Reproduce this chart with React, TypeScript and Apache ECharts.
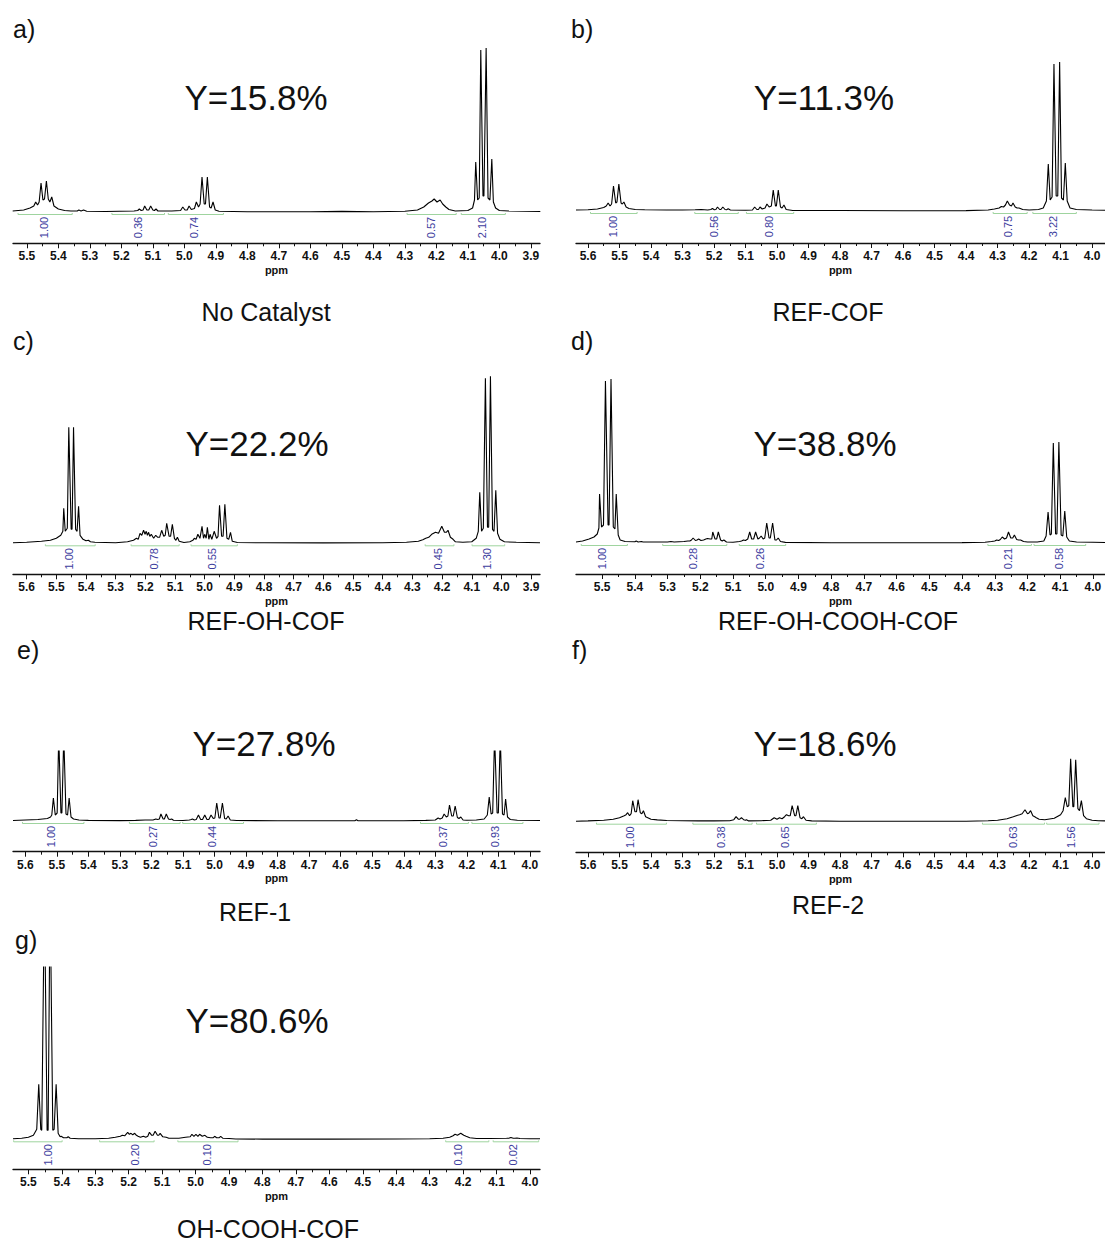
import React, { useEffect, useRef } from "react";
import * as echarts from "echarts";

type Pt = [number, number];

// ---------- spectra: [ppm, intensity above baseline] ----------
const SPEC_A: Pt[] = [
  [5.545, 1], [5.51, 2], [5.49, 4], [5.478, 6], [5.472, 10], [5.466, 7], [5.461, 10], [5.455, 29], [5.449, 12],
  [5.444, 13], [5.438, 31], [5.432, 13], [5.427, 10], [5.421, 15], [5.414, 6], [5.4, 3], [5.38, 1.5], [5.36, 1],
  [5.34, 1], [5.335, 2], [5.328, 1], [5.32, 2], [5.31, 0.8], [5.25, 0.5], [5.16, 1], [5.148, 1.5], [5.143, 3],
  [5.137, 1.5], [5.131, 2], [5.126, 6], [5.119, 2], [5.113, 2], [5.107, 6], [5.1, 2], [5.095, 1.5], [5.09, 3],
  [5.084, 1], [5.04, 1], [5.012, 1.5], [5.005, 5], [4.998, 2], [4.991, 2], [4.985, 6], [4.978, 2.5], [4.968, 3.5],
  [4.962, 10], [4.955, 5], [4.95, 8], [4.944, 35], [4.937, 8], [4.933, 8], [4.927, 35], [4.92, 5], [4.915, 4],
  [4.909, 10], [4.902, 2], [4.89, 0.8], [4.8, 0.3], [4.6, 0.3], [4.5, 0.6], [4.4, 0.3], [4.3, 0.8], [4.26, 2],
  [4.24, 5], [4.225, 9], [4.214, 11], [4.207, 13], [4.198, 10], [4.188, 12], [4.18, 8], [4.17, 5], [4.16, 2.5],
  [4.14, 1], [4.1, 1.5], [4.085, 4], [4.079, 12], [4.075, 50], [4.069, 12], [4.064, 14], [4.059, 162], [4.052, 16],
  [4.049, 16], [4.042, 164], [4.036, 14], [4.03, 12], [4.024, 53], [4.019, 10], [4.012, 4], [4.0, 1.5], [3.97, 1],
  [3.87, 0.5],
];

const SPEC_B: Pt[] = [
  [5.638, 1], [5.6, 1.2], [5.57, 2], [5.55, 3.5], [5.542, 5], [5.536, 8], [5.53, 5], [5.525, 7], [5.519, 25],
  [5.512, 8], [5.508, 9], [5.502, 27], [5.495, 8], [5.491, 7], [5.486, 9], [5.479, 4], [5.47, 2.5], [5.45, 1.5],
  [5.42, 1.2], [5.35, 1], [5.3, 1], [5.26, 1.2], [5.24, 1.5], [5.22, 1], [5.21, 1.5], [5.205, 2.5], [5.199, 1.2],
  [5.194, 1.5], [5.189, 4], [5.182, 1.5], [5.178, 1.5], [5.172, 4], [5.165, 1.5], [5.16, 1.2], [5.155, 2.2],
  [5.148, 1], [5.1, 0.8], [5.078, 1], [5.071, 4], [5.064, 1.5], [5.059, 1.5], [5.054, 4], [5.047, 2], [5.038, 3],
  [5.032, 7], [5.025, 4], [5.018, 5], [5.012, 21], [5.005, 5], [5.002, 5], [4.996, 21], [4.989, 4], [4.984, 3],
  [4.978, 6], [4.971, 1.5], [4.95, 0.5], [4.8, 0.5], [4.6, 0.3], [4.4, 0.4], [4.33, 1], [4.31, 2], [4.295, 3],
  [4.288, 4.5], [4.281, 4], [4.275, 6], [4.269, 10], [4.262, 6], [4.256, 5], [4.251, 8], [4.244, 4], [4.238, 3],
  [4.232, 3], [4.22, 1.5], [4.2, 1], [4.17, 1.5], [4.155, 3], [4.145, 10], [4.139, 47], [4.133, 11], [4.127, 14],
  [4.121, 147], [4.114, 15], [4.109, 15], [4.103, 149], [4.097, 13], [4.091, 11], [4.085, 48], [4.079, 10],
  [4.07, 3], [4.05, 1.5], [4.0, 1], [3.959, 0.8],
];

const SPEC_C: Pt[] = [
  [5.646, 0.5], [5.6, 1], [5.55, 2], [5.52, 3], [5.5, 5], [5.485, 8], [5.478, 12], [5.475, 35], [5.47, 12],
  [5.463, 15], [5.458, 116], [5.45, 14], [5.447, 14], [5.442, 116], [5.435, 14], [5.43, 12], [5.425, 37], [5.42, 8],
  [5.41, 4], [5.4, 2.5], [5.392, 3], [5.385, 1.5], [5.37, 1], [5.3, 0.5], [5.26, 1.5], [5.24, 3], [5.23, 5],
  [5.224, 4], [5.218, 10], [5.212, 8], [5.206, 13], [5.201, 9], [5.197, 12], [5.193, 8], [5.189, 11], [5.185, 7],
  [5.18, 9], [5.172, 5], [5.165, 8], [5.158, 6], [5.152, 6], [5.145, 13], [5.138, 7], [5.133, 8], [5.128, 20],
  [5.12, 7], [5.115, 7], [5.109, 19], [5.102, 5], [5.097, 3], [5.092, 6], [5.086, 2], [5.07, 0.8], [5.05, 1.5],
  [5.04, 3], [5.035, 5], [5.029, 4], [5.023, 9], [5.016, 5], [5.009, 17], [5.004, 5], [5.0, 9], [4.995, 5],
  [4.991, 16], [4.986, 4], [4.982, 9], [4.976, 4], [4.968, 12], [4.96, 5], [4.955, 7], [4.95, 38], [4.943, 7],
  [4.938, 7], [4.932, 39], [4.925, 5], [4.919, 4], [4.913, 11], [4.907, 2], [4.89, 0.8], [4.8, 0.5], [4.6, 0.4],
  [4.4, 0.5], [4.32, 1], [4.28, 2], [4.265, 3.5], [4.255, 5], [4.245, 6], [4.235, 9], [4.222, 11], [4.212, 10],
  [4.201, 17], [4.192, 11], [4.186, 11], [4.18, 13], [4.172, 6], [4.163, 4], [4.155, 1.5], [4.13, 1], [4.1, 1.5],
  [4.085, 5], [4.078, 12], [4.073, 51], [4.067, 12], [4.061, 15], [4.054, 165], [4.047, 16], [4.043, 16],
  [4.037, 167], [4.03, 14], [4.025, 12], [4.019, 53], [4.013, 10], [4.005, 4], [3.99, 1.5], [3.95, 1], [3.87, 0.5],
];

const SPEC_D: Pt[] = [
  [5.58, 1], [5.56, 2], [5.54, 4], [5.525, 6], [5.515, 9], [5.51, 15], [5.508, 49], [5.502, 16], [5.496, 18],
  [5.49, 162], [5.482, 18], [5.479, 18], [5.473, 164], [5.466, 16], [5.461, 14], [5.457, 49], [5.451, 8],
  [5.445, 3], [5.43, 1.5], [5.4, 1.2], [5.396, 2], [5.39, 1], [5.38, 1.5], [5.375, 1], [5.3, 1], [5.29, 1.5],
  [5.28, 1], [5.25, 1.5], [5.238, 2], [5.232, 2], [5.227, 3], [5.222, 5], [5.215, 2.5], [5.21, 3], [5.205, 4],
  [5.198, 2.5], [5.19, 3], [5.183, 4], [5.178, 4.5], [5.17, 4], [5.165, 4], [5.162, 11], [5.155, 4], [5.15, 4],
  [5.145, 11], [5.138, 3], [5.133, 2], [5.128, 3], [5.12, 1], [5.1, 0.8], [5.08, 1.5], [5.074, 2], [5.068, 3],
  [5.062, 2.5], [5.055, 4], [5.049, 11], [5.043, 4], [5.037, 4], [5.031, 11], [5.024, 4], [5.019, 5], [5.014, 7],
  [5.008, 4], [5.003, 5], [4.997, 20], [4.99, 5], [4.986, 5], [4.979, 20], [4.972, 3], [4.967, 3], [4.962, 5],
  [4.955, 1.5], [4.94, 0.6], [4.8, 0.3], [4.6, 0.3], [4.4, 0.4], [4.33, 0.8], [4.31, 1.5], [4.3, 2], [4.294, 3],
  [4.288, 2.5], [4.283, 3.5], [4.277, 6], [4.27, 4], [4.264, 5], [4.258, 11], [4.251, 5], [4.245, 5], [4.24, 8],
  [4.233, 3.5], [4.227, 3], [4.221, 3], [4.212, 1.5], [4.2, 1], [4.17, 1], [4.15, 2], [4.143, 7], [4.137, 31],
  [4.131, 8], [4.127, 9], [4.121, 100], [4.114, 9], [4.11, 9], [4.104, 101], [4.097, 8], [4.092, 7], [4.086, 32],
  [4.08, 6], [4.072, 2], [4.05, 1], [4.0, 0.8], [3.963, 0.5],
];

const SPEC_E: Pt[] = [
  [5.639, 0.5], [5.6, 1], [5.56, 1.5], [5.53, 2.5], [5.52, 4], [5.516, 6], [5.511, 23], [5.505, 6], [5.499, 8],
  [5.494, 85], [5.487, 8], [5.484, 8], [5.478, 85], [5.471, 7], [5.466, 6], [5.461, 23], [5.455, 4], [5.447, 2],
  [5.43, 1], [5.4, 0.6], [5.3, 0.4], [5.25, 0.6], [5.22, 1], [5.195, 1], [5.186, 2], [5.18, 1.5], [5.175, 2],
  [5.17, 7], [5.163, 2], [5.159, 2], [5.153, 7], [5.146, 2], [5.141, 1.5], [5.136, 2], [5.13, 0.8], [5.1, 0.5],
  [5.08, 1], [5.074, 1.5], [5.07, 2], [5.064, 1], [5.058, 1.5], [5.051, 6], [5.044, 1.5], [5.038, 1.5], [5.031, 6],
  [5.024, 1.5], [5.018, 1.5], [5.011, 6], [5.004, 2.5], [4.999, 3], [4.993, 18], [4.986, 3], [4.982, 3],
  [4.975, 18], [4.968, 2.5], [4.963, 2], [4.957, 5], [4.95, 1], [4.93, 0.5], [4.8, 0.3], [4.6, 0.3], [4.555, 0.3],
  [4.55, 1.2], [4.545, 0.3], [4.4, 0.3], [4.33, 0.6], [4.3, 1], [4.291, 3], [4.285, 2], [4.278, 3], [4.272, 7],
  [4.265, 4], [4.26, 5], [4.255, 16], [4.248, 5], [4.243, 5], [4.237, 15], [4.23, 3.5], [4.225, 2.5], [4.219, 4],
  [4.212, 1], [4.2, 0.8], [4.17, 1], [4.145, 2], [4.135, 6], [4.129, 24], [4.123, 7], [4.118, 8], [4.112, 85],
  [4.104, 8], [4.1, 8], [4.094, 85], [4.087, 7], [4.082, 6], [4.077, 22], [4.071, 4], [4.062, 1.5], [4.04, 0.8],
  [3.968, 0.5],
];

const SPEC_F: Pt[] = [
  [5.638, 0.5], [5.6, 0.8], [5.55, 1.5], [5.52, 2.5], [5.5, 4], [5.485, 6], [5.479, 7], [5.474, 9], [5.468, 6],
  [5.463, 8], [5.458, 21], [5.451, 10], [5.446, 10], [5.441, 22], [5.434, 9], [5.429, 8], [5.424, 11], [5.417, 5],
  [5.4, 2.5], [5.38, 1.8], [5.35, 1.2], [5.3, 1], [5.25, 0.8], [5.2, 0.8], [5.15, 1], [5.137, 2], [5.13, 5],
  [5.123, 2.5], [5.118, 2.5], [5.113, 4], [5.106, 2], [5.1, 1.5], [5.097, 2], [5.09, 0.8], [5.05, 1], [5.02, 1.5],
  [5.009, 4], [5.0, 2.5], [4.992, 4], [4.984, 3], [4.976, 5], [4.97, 7], [4.963, 6], [4.958, 6], [4.952, 16],
  [4.944, 6], [4.94, 6], [4.934, 16], [4.927, 4], [4.921, 3], [4.916, 5], [4.908, 1.5], [4.89, 0.8], [4.8, 0.5],
  [4.6, 0.5], [4.4, 0.5], [4.33, 1], [4.3, 1.5], [4.27, 3], [4.25, 5], [4.236, 6.5], [4.23, 7], [4.222, 8],
  [4.213, 12], [4.205, 8], [4.201, 8.5], [4.195, 11], [4.188, 6], [4.182, 5], [4.177, 4], [4.168, 2.5], [4.15, 2],
  [4.12, 3.5], [4.1, 7], [4.092, 11], [4.085, 24], [4.079, 15], [4.074, 16], [4.068, 63], [4.061, 15], [4.058, 15],
  [4.052, 62], [4.045, 13], [4.04, 11], [4.034, 21], [4.027, 6], [4.018, 3], [4.0, 1.5], [3.98, 1], [3.959, 0.8],
];

const SPEC_G: Pt[] = [
  [5.546, 0.5], [5.52, 1], [5.5, 2], [5.485, 4], [5.475, 10], [5.469, 55], [5.463, 10], [5.46, 9], [5.452, 250],
  [5.444, 9], [5.441, 9], [5.435, 250], [5.427, 9], [5.423, 10], [5.417, 55], [5.411, 6], [5.405, 2.5], [5.402, 3],
  [5.395, 1.5], [5.385, 1.5], [5.381, 2.5], [5.375, 1], [5.35, 0.5], [5.3, 0.5], [5.26, 1], [5.24, 2], [5.225, 3],
  [5.219, 4], [5.212, 3.5], [5.203, 7], [5.198, 5], [5.193, 6], [5.188, 4.5], [5.182, 6], [5.177, 4], [5.172, 3],
  [5.165, 2], [5.156, 3], [5.149, 2], [5.143, 3], [5.138, 7], [5.131, 4], [5.127, 4], [5.121, 8], [5.114, 4],
  [5.11, 4], [5.106, 6], [5.098, 2.5], [5.088, 2], [5.08, 1], [5.05, 1], [5.03, 2], [5.016, 2.5], [5.011, 5],
  [5.005, 3], [4.999, 5], [4.993, 3], [4.988, 5], [4.98, 3], [4.972, 4], [4.965, 2], [4.955, 1.5], [4.948, 1.5],
  [4.943, 3], [4.937, 1.5], [4.93, 1.5], [4.925, 3], [4.918, 1], [4.9, 0.8], [4.88, 0.3], [4.8, 0.2], [4.6, 0.2],
  [4.4, 0.3], [4.3, 0.6], [4.26, 1], [4.24, 2], [4.23, 3.5], [4.224, 5], [4.217, 4], [4.207, 6], [4.198, 4],
  [4.191, 3], [4.18, 1.5], [4.16, 0.8], [4.12, 0.8], [4.07, 1], [4.062, 1.2], [4.057, 1.8], [4.05, 1], [4.045, 1],
  [4.039, 1.3], [4.03, 0.8], [4.0, 0.5], [3.97, 0.5],
];

// ---------- integrals: ranges [from, to] (ppm), label ppm, label value ----------
const INT_A: Pt[] = [[5.528, 5.356], [5.23, 5.063], [5.051, 4.876], [4.293, 4.137], [4.121, 3.981]];
const INT_POS_A = [5.445, 5.148, 4.968, 4.216, 4.054];
const INT_VAL_A = ["1.00", "0.36", "0.74", "0.57", "2.10"];

const INT_B: Pt[] = [[5.592, 5.444], [5.261, 5.123], [5.097, 4.947], [4.314, 4.206], [4.188, 4.05]];
const INT_POS_B = [5.519, 5.2, 5.026, 4.266, 4.123];
const INT_VAL_B = ["1.00", "0.56", "0.80", "0.75", "3.22"];

const INT_C: Pt[] = [[5.537, 5.369], [5.248, 5.086], [5.046, 4.89], [4.257, 4.16], [4.099, 3.989]];
const INT_POS_C = [5.458, 5.171, 4.976, 4.213, 4.048];
const INT_VAL_C = ["1.00", "0.78", "0.55", "0.45", "1.30"];

const INT_D: Pt[] = [[5.564, 5.423], [5.315, 5.119], [5.081, 4.939], [4.321, 4.188], [4.18, 4.022]];
const INT_POS_D = [5.502, 5.222, 5.017, 4.259, 4.105];
const INT_VAL_D = ["1.00", "0.28", "0.26", "0.21", "0.58"];

const INT_E: Pt[] = [[5.609, 5.414], [5.27, 5.109], [5.101, 4.908], [4.347, 4.195], [4.184, 4.022]];
const INT_POS_E = [5.517, 5.195, 5.008, 4.277, 4.11];
const INT_VAL_E = ["1.00", "0.27", "0.44", "0.37", "0.93"];

const INT_F: Pt[] = [[5.573, 5.351], [5.267, 5.079], [5.065, 4.875], [4.348, 4.151], [4.144, 3.978]];
const INT_POS_F = [5.467, 5.177, 4.975, 4.25, 4.067];
const INT_VAL_F = ["1.00", "0.38", "0.65", "0.63", "1.56"];

const INT_G: Pt[] = [[5.544, 5.399], [5.287, 5.124], [5.053, 4.873], [4.252, 4.123], [4.11, 3.974]];
const INT_POS_G = [5.441, 5.182, 4.967, 4.215, 4.052];
const INT_VAL_G = ["1.00", "0.20", "0.10", "0.10", "0.02"];

// ---------- axes: ranges [min, max] ppm and tick labels ----------
const RANGE_A: Pt = [3.871, 5.544];
const RANGE_B: Pt = [3.959, 5.638];
const RANGE_C: Pt = [3.87, 5.646];
const RANGE_D: Pt = [3.963, 5.58];
const RANGE_E: Pt = [3.968, 5.639];
const RANGE_F: Pt = [3.959, 5.638];
const RANGE_G: Pt = [3.97, 5.546];

const TICKS_A = [5.5, 5.4, 5.3, 5.2, 5.1, 5.0, 4.9, 4.8, 4.7, 4.6, 4.5, 4.4, 4.3, 4.2, 4.1, 4.0, 3.9];
const TICKS_B = [5.6, 5.5, 5.4, 5.3, 5.2, 5.1, 5.0, 4.9, 4.8, 4.7, 4.6, 4.5, 4.4, 4.3, 4.2, 4.1, 4.0];
const TICKS_C = [5.6, 5.5, 5.4, 5.3, 5.2, 5.1, 5.0, 4.9, 4.8, 4.7, 4.6, 4.5, 4.4, 4.3, 4.2, 4.1, 4.0, 3.9];
const TICKS_D = [5.5, 5.4, 5.3, 5.2, 5.1, 5.0, 4.9, 4.8, 4.7, 4.6, 4.5, 4.4, 4.3, 4.2, 4.1, 4.0];
const TICKS_E = [5.6, 5.5, 5.4, 5.3, 5.2, 5.1, 5.0, 4.9, 4.8, 4.7, 4.6, 4.5, 4.4, 4.3, 4.2, 4.1, 4.0];
const TICKS_F = [5.6, 5.5, 5.4, 5.3, 5.2, 5.1, 5.0, 4.9, 4.8, 4.7, 4.6, 4.5, 4.4, 4.3, 4.2, 4.1, 4.0];
const TICKS_G = [5.5, 5.4, 5.3, 5.2, 5.1, 5.0, 4.9, 4.8, 4.7, 4.6, 4.5, 4.4, 4.3, 4.2, 4.1, 4.0];

// ---------- texts ----------
const LETTERS = ["a)", "b)", "c)", "d)", "e)", "f)", "g)"];
const YIELDS = ["Y=15.8%", "Y=11.3%", "Y=22.2%", "Y=38.8%", "Y=27.8%", "Y=18.6%", "Y=80.6%"];
const CATALYSTS = ["No Catalyst", "REF-COF", "REF-OH-COF", "REF-OH-COOH-COF", "REF-1", "REF-2", "OH-COOH-COF"];

const PANELS = [
  { spec: SPEC_A, ints: INT_A, intPos: INT_POS_A, intVal: INT_VAL_A, range: RANGE_A, ticks: TICKS_A },
  { spec: SPEC_B, ints: INT_B, intPos: INT_POS_B, intVal: INT_VAL_B, range: RANGE_B, ticks: TICKS_B },
  { spec: SPEC_C, ints: INT_C, intPos: INT_POS_C, intVal: INT_VAL_C, range: RANGE_C, ticks: TICKS_C },
  { spec: SPEC_D, ints: INT_D, intPos: INT_POS_D, intVal: INT_VAL_D, range: RANGE_D, ticks: TICKS_D },
  { spec: SPEC_E, ints: INT_E, intPos: INT_POS_E, intVal: INT_VAL_E, range: RANGE_E, ticks: TICKS_E },
  { spec: SPEC_F, ints: INT_F, intPos: INT_POS_F, intVal: INT_VAL_F, range: RANGE_F, ticks: TICKS_F },
  { spec: SPEC_G, ints: INT_G, intPos: INT_POS_G, intVal: INT_VAL_G, range: RANGE_G, ticks: TICKS_G },
];

// ---------- layout (pixels) ----------
const LAYOUT = [
  { left: 13, width: 527, top: 40, axisY: 243.3, baseY: 212, letter: [13, 29], yld: [256, 97], title: [266, 312] },
  { left: 576, width: 529, top: 40, axisY: 243, baseY: 211, letter: [571, 29], yld: [824, 97], title: [828, 312] },
  { left: 13, width: 527, top: 370, axisY: 574.3, baseY: 543.3, letter: [13, 341], yld: [257, 443], title: [266, 621] },
  { left: 576, width: 529, top: 370, axisY: 574, baseY: 543, letter: [571, 341], yld: [825, 443], title: [838, 621] },
  { left: 13, width: 527, top: 751, axisY: 851.7, baseY: 821, letter: [17, 650], yld: [264, 743], title: [255, 912] },
  { left: 576, width: 529, top: 700, axisY: 852.3, baseY: 821.7, letter: [572, 650], yld: [825, 743], title: [828, 905] },
  { left: 13, width: 527, top: 967, axisY: 1169.3, baseY: 1139.3, letter: [15, 940], yld: [257, 1020], title: [268, 1229] },
];

const FONT = "'Liberation Sans', Arial, Helvetica, sans-serif";

function buildOption() {
  const grid: any[] = [];
  const xAxis: any[] = [];
  const yAxis: any[] = [];
  const series: any[] = [];
  const graphic: any[] = [];

  PANELS.forEach((p, i) => {
    const L = LAYOUT[i];
    grid.push({ left: L.left, top: L.top, width: L.width, height: L.axisY - L.top, containLabel: false });
    const minors = p.ticks.map((t) => +(t - 0.05).toFixed(2)).filter((t) => t > p.range[0] && t < p.range[1]);
    xAxis.push({
      type: "value",
      gridIndex: i,
      min: p.range[0],
      max: p.range[1],
      inverse: true,
      position: "bottom",
      offset: 0,
      axisLine: { show: true, onZero: false, lineStyle: { color: "#111", width: 1.3 } },
      axisTick: { show: true, customValues: p.ticks, length: 5, lineStyle: { color: "#111", width: 1 } },
      axisLabel: {
        show: true,
        customValues: p.ticks,
        formatter: (v: number) => v.toFixed(1),
        fontFamily: FONT,
        fontWeight: "bold",
        fontSize: 12,
        color: "#111",
        margin: 7,
        showMinLabel: true,
        showMaxLabel: true,
      },
      splitLine: { show: false },
      name: "ppm",
      nameLocation: "middle",
      nameGap: 21,
      nameTextStyle: { fontFamily: FONT, fontWeight: "bold", fontSize: 11, color: "#111" },
    });
    xAxis.push({
      type: "value",
      gridIndex: i,
      min: p.range[0],
      max: p.range[1],
      inverse: true,
      position: "bottom",
      offset: 0,
      axisLine: { show: false, onZero: false },
      axisTick: { show: true, customValues: minors, length: 3, lineStyle: { color: "#111", width: 1 } },
      axisLabel: { show: false },
      splitLine: { show: false },
    });
    yAxis.push({
      type: "value",
      gridIndex: i,
      min: -(L.axisY - L.baseY),
      max: L.baseY - L.top,
      show: false,
    });

    series.push({
      type: "line",
      xAxisIndex: 2 * i,
      yAxisIndex: i,
      data: p.spec,
      showSymbol: false,
      symbol: "none",
      clip: true,
      silent: true,
      z: 3,
      lineStyle: { color: "#000", width: 1.1 },
    });

    p.ints.forEach((r) => {
      series.push({
        type: "line",
        xAxisIndex: 2 * i,
        yAxisIndex: i,
        data: [[r[0], -1], [r[0], -2.5], [r[1], -2.5], [r[1], -1]],
        showSymbol: false,
        symbol: "none",
        silent: true,
        z: 2,
        lineStyle: { color: "#9fd49f", width: 1 },
      });
    });

    series.push({
      type: "scatter",
      xAxisIndex: 2 * i,
      yAxisIndex: i,
      symbol: "circle",
      symbolSize: 2,
      itemStyle: { color: "rgba(255,255,255,0)" },
      silent: true,
      data: p.intPos.map((x, k) => ({ name: p.intVal[k], value: [x, -15.5] })),
      label: {
        show: true,
        position: "inside",
        formatter: (prm: any) => prm.name,
        rotate: 90,
        fontFamily: FONT,
        fontSize: 11,
        color: "#3d3d9e",
        opacity: 1,
      },
      labelLayout: { hideOverlap: false },
      z: 4,
    });

    graphic.push({
      type: "text",
      x: L.letter[0],
      y: L.letter[1],
      style: {
        text: LETTERS[i],
        font: `25px ${FONT}`,
        fill: "#111",
        textAlign: "left",
        textVerticalAlign: "middle",
        align: "left",
        verticalAlign: "middle",
      },
    });
    graphic.push({
      type: "text",
      x: L.yld[0],
      y: L.yld[1],
      style: {
        text: YIELDS[i],
        font: `35px ${FONT}`,
        fill: "#111",
        textAlign: "center",
        textVerticalAlign: "middle",
        align: "center",
        verticalAlign: "middle",
      },
    });
    graphic.push({
      type: "text",
      x: L.title[0],
      y: L.title[1],
      style: {
        text: CATALYSTS[i],
        font: `25px ${FONT}`,
        fill: "#111",
        textAlign: "center",
        textVerticalAlign: "middle",
        align: "center",
        verticalAlign: "middle",
      },
    });
  });

  return {
    animation: false,
    backgroundColor: "#ffffff",
    grid,
    xAxis,
    yAxis,
    series,
    graphic,
  };
}

export default function App() {
  const ref = useRef<HTMLDivElement>(null);
  useEffect(() => {
    document.body.style.margin = "0";
    if (!ref.current) return;
    const chart = echarts.init(ref.current, undefined, { renderer: "svg" });
    chart.setOption(buildOption() as any);
    return () => chart.dispose();
  }, []);
  return <div ref={ref} style={{ width: 1105, height: 1244, background: "#fff" }} />;
}
